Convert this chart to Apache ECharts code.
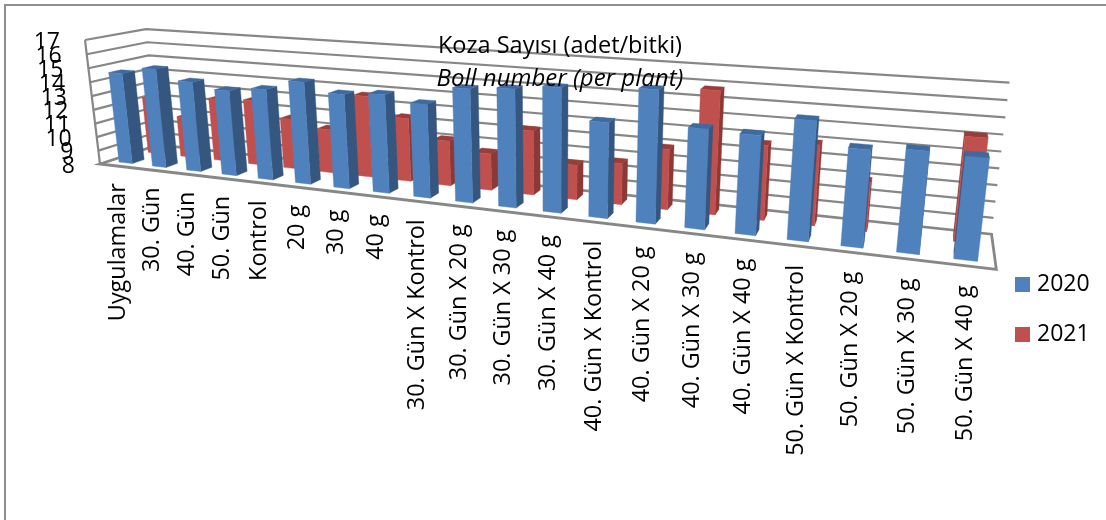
<!DOCTYPE html>
<html>
<head>
<meta charset="utf-8">
<style>html,body{margin:0;padding:0;background:#fff}#chart{width:1106px;height:520px}</style>
<script src="https://cdn.jsdelivr.net/npm/echarts@6/dist/echarts.min.js"></script>
</head>
<body>
<div id="chart"></div>
<script>
const categories = ['Uygulamalar','30. Gün','40. Gün','50. Gün','Kontrol','20 g','30 g','40 g',
  '30. Gün X Kontrol','30. Gün X 20 g','30. Gün X 30 g','30. Gün X 40 g',
  '40. Gün X Kontrol','40. Gün X 20 g','40. Gün X 30 g','40. Gün X 40 g',
  '50. Gün X Kontrol','50. Gün X 20 g','50. Gün X 30 g','50. Gün X 40 g'];
const values2020 = [14.6,15.1,14.4,14.0,14.3,15.0,14.4,14.6,14.2,15.4,15.6,15.9,14.0,16.2,14.1,14.0,15.1,13.7,13.9,13.8];
const values2021 = [12.2,11.0,12.6,12.7,11.6,11.1,13.7,12.4,11.1,10.5,12.3,10.3,10.7,11.9,15.8,12.7,13.0,11.0,12.5,14.2];
const yTicks = [8,9,10,11,12,13,14,15,16,17];

const FONT = '"Open Sans", sans-serif';
const LINE = '#878787';

// One-box perspective: three vanishing points with homogeneous weights,
// anchored at the front-left floor corner of the plot box.
const ORIGIN = [100, 164];
const VP_U = [-2386, -128], W_U = -0.265;   // along the categories
const VP_V = [944, -115],   W_V = 0.0738;   // front to back
const VP_H = [555, 3926],   W_H = -0.0319;  // floor to top

function project(u, v, h) {
  const a = W_U * u, b = W_V * v, c = W_H * h, d = 1 + a + b + c;
  return [
    (a * VP_U[0] + b * VP_V[0] + c * VP_H[0] + ORIGIN[0]) / d,
    (a * VP_U[1] + b * VP_V[1] + c * VP_H[1] + ORIGIN[1]) / d
  ];
}

// Flat grid pixel -> fractions of the plot box.
function boxOf(cs, pt) {
  return [(pt[0] - cs.x) / cs.width, (cs.y + cs.height - pt[1]) / cs.height];
}

const BAR_WIDTH = 0.4;   // share of a category band
function barRenderer(depth, faces) {
  return function (params, api) {
    const cs = params.coordSys;
    const top = boxOf(cs, api.coord([api.value(0), api.value(1)]));
    const half = api.size([1, 0])[0] * BAR_WIDTH / 2 / cs.width;
    const u0 = top[0] - half, u1 = top[0] + half, h = top[1], v0 = depth[0], v1 = depth[1];
    const poly = (pts, fill) => ({
      type: 'polygon', shape: { points: pts }, silent: true,
      style: { fill: fill, stroke: fill, lineWidth: 0.4 }
    });
    const fl0 = project(u0, v0, 0), fr0 = project(u1, v0, 0), fl1 = project(u0, v0, h), fr1 = project(u1, v0, h);
    const bl0 = project(u0, v1, 0), br0 = project(u1, v1, 0), bl1 = project(u0, v1, h), br1 = project(u1, v1, h);
    const children = [];
    if (br1[0] > fr1[0]) children.push(poly([fr0, br0, br1, fr1], faces.side));
    if (bl1[0] < fl1[0]) children.push(poly([fl0, bl0, bl1, fl1], faces.side));
    children.push(poly([fl1, fr1, br1, bl1], faces.top));
    children.push(poly([fl0, fr0, fr1, fl1], faces.front));
    return { type: 'group', children: children };
  };
}

// Walls, grid lines and floor outline.
function frameRenderer(params, api) {
  const cs = params.coordSys;
  const tick = api.value(1);
  const h = boxOf(cs, api.coord([0, tick]))[1];
  const seg = (pts, w) => ({
    type: 'polyline', shape: { points: pts }, silent: true,
    style: { stroke: LINE, lineWidth: w, fill: null }
  });
  const children = [];
  if (h > 0) {
    children.push(seg([project(0, 0, h), project(0, 1, h), project(1, 1, h)], 2.2));
  } else {
    children.push(seg([project(0, 1, 0), project(1, 1, 0), project(1, 0, 0), project(0, 0, 0), project(0, 1, 0)], 2.8));
    children.push(seg([project(0, 0, 0), project(0, 0, 1)], 2.2));
  }
  return { type: 'group', children: children };
}

function yLabelRenderer(params, api) {
  const cs = params.coordSys;
  const tick = api.value(1);
  const p = project(0, 0, boxOf(cs, api.coord([0, tick]))[1]);
  return {
    type: 'text', x: p[0] - 25, y: p[1] + 2, silent: true,
    style: { text: String(tick), fontSize: 23, fontFamily: FONT, fill: '#000', align: 'right', verticalAlign: 'middle' }
  };
}

function xLabelRenderer(params, api) {
  const cs = params.coordSys;
  const i = api.value(0);
  const u = boxOf(cs, api.coord([i, yTicks[0]]))[0];
  const p = project(u, 0, -0.145 + 0.02 * u);
  return {
    type: 'text', x: p[0] + 2 * u, y: p[1], rotation: Math.PI / 2, silent: true,
    style: { text: categories[i], fontSize: 23.4, fontFamily: FONT, fill: '#000', align: 'right', verticalAlign: 'middle' }
  };
}

const chart = echarts.init(document.getElementById('chart'), null, { renderer: 'canvas' });
chart.setOption({
  animation: false,
  backgroundColor: '#fff',
  title: [
    { text: 'Koza Sayısı (adet/bitki)', left: 555, top: 41, textAlign: 'center', textVerticalAlign: 'middle',
      textStyle: { fontFamily: FONT, fontSize: 23.5, fontWeight: 'normal', color: '#000' } },
    { text: 'Boll number (per plant)', left: 555, top: 74, textAlign: 'center', textVerticalAlign: 'middle',
      textStyle: { fontFamily: FONT, fontSize: 24, fontStyle: 'italic', fontWeight: 'normal', color: '#000' } }
  ],
  legend: {
    orient: 'vertical', left: 1010, top: 268, itemWidth: 15, itemHeight: 15, itemGap: 27, icon: 'rect',
    data: ['2020', '2021'],
    textStyle: { fontFamily: FONT, fontSize: 23, color: '#000', padding: [0, 0, 0, 2] }
  },
  grid: { left: 100, right: 110, top: 40, bottom: 250 },
  xAxis: { type: 'category', data: categories, show: false },
  yAxis: { type: 'value', min: yTicks[0], max: yTicks[yTicks.length - 1], interval: 1, show: false },
  graphic: [{
    type: 'polyline', silent: true, shape: { points: [[5, 520], [5, 5], [1106, 5]] },
    style: { stroke: '#8f8f8f', lineWidth: 2, fill: null }
  }],
  series: [
    { type: 'custom', name: 'frame', clip: false, z: 1, renderItem: frameRenderer,
      data: yTicks.map(t => [0, t]), encode: { x: 0, y: 1 } },
    { type: 'custom', name: '2021', clip: false, z: 2, itemStyle: { color: '#C0504D' },
      renderItem: barRenderer([0.65, 0.85], { front: '#C0504D', side: '#8C3836', top: '#9A3C3A' }),
      data: values2021.map((v, i) => [i, v]), encode: { x: 0, y: 1 } },
    { type: 'custom', name: '2020', clip: false, z: 3, itemStyle: { color: '#4F81BD' },
      renderItem: barRenderer([0.15, 0.35], { front: '#4F81BD', side: '#34567F', top: '#3D6A9F' }),
      data: values2020.map((v, i) => [i, v]), encode: { x: 0, y: 1 } },
    { type: 'custom', name: 'yLabels', clip: false, z: 4, renderItem: yLabelRenderer,
      data: yTicks.map(t => [0, t]), encode: { x: 0, y: 1 } },
    { type: 'custom', name: 'xLabels', clip: false, z: 4, renderItem: xLabelRenderer,
      data: categories.map((c, i) => [i, yTicks[0]]), encode: { x: 0, y: 1 } }
  ]
});
</script>
</body>
</html>
